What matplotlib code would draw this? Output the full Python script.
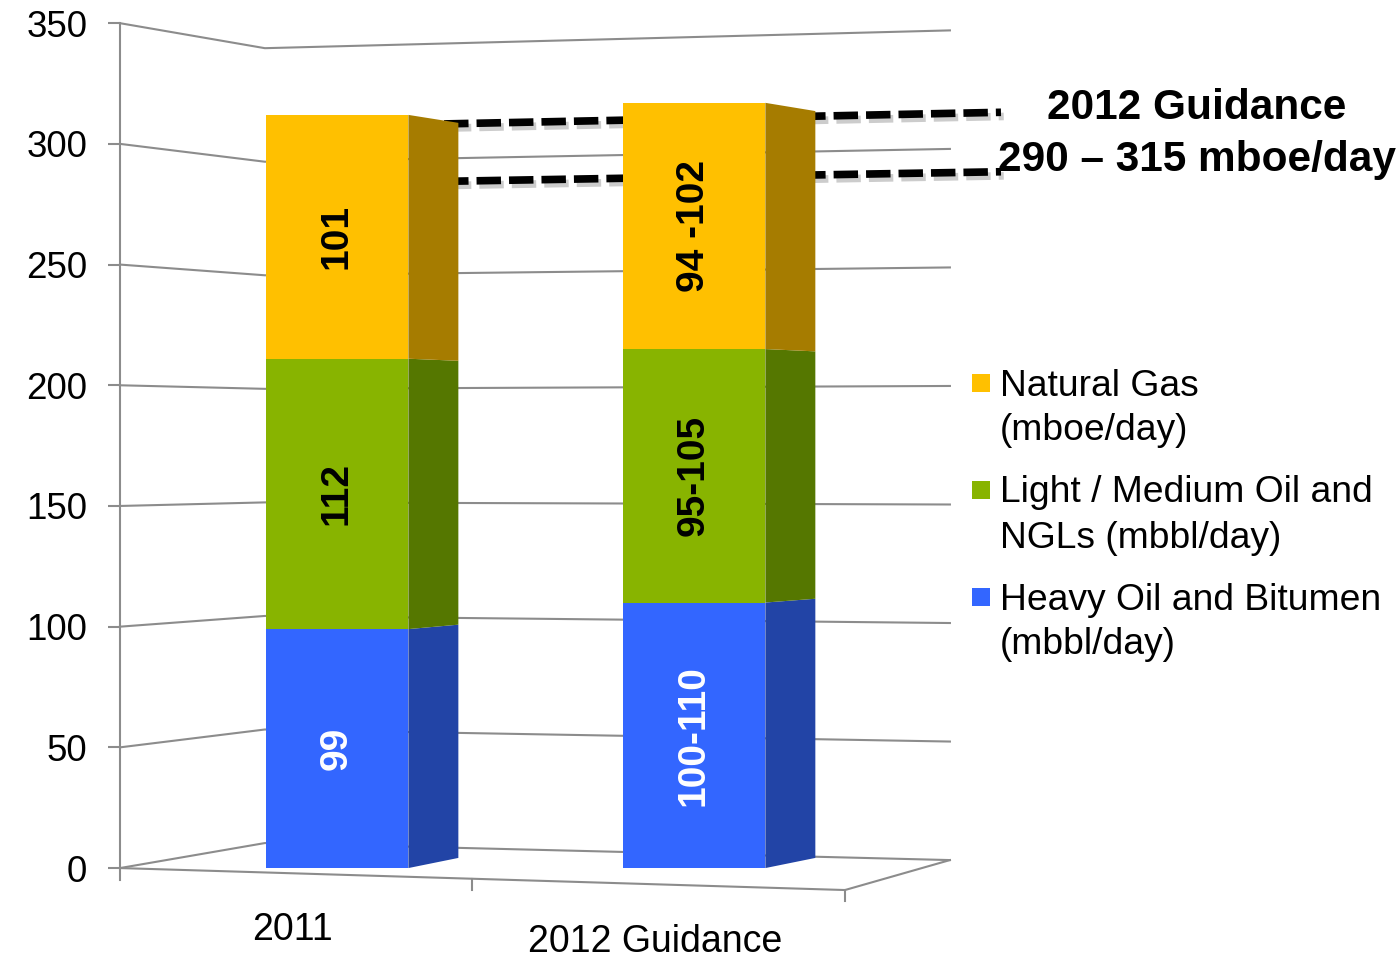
import matplotlib.pyplot as plt
import matplotlib.patheffects as pe
from matplotlib.patches import Polygon, Rectangle

plt.rcParams['font.family'] = ['Liberation Sans', 'DejaVu Sans']

# data
categories = ['2011', '2012 Guidance']
heavy = [99, 110]
light = [112, 105]
gas = [101, 102]
heavy_labels = ['99', '100-110']
light_labels = ['112', '95-105']
gas_labels = ['101', '94 -102']
guidance_low = 290
guidance_high = 315
yticks = [0, 50, 100, 150, 200, 250, 300, 350]
legend_names = ['Natural Gas\n(mboe/day)', 'Light / Medium Oil and\nNGLs (mbbl/day)',
                'Heavy Oil and Bitumen\n(mbbl/day)']

front_col = ['#3366FF', '#88B400', '#FFC000']   # heavy, light, gas
side_col = ['#2244A6', '#557700', '#A67C00']
grid_col = '#8c8c8c'

W, H = 1399, 961
fig = plt.figure(figsize=(W / 100, H / 100), dpi=100)
ax = fig.add_axes([0, 0, 1, 1])
ax.set_xlim(-0.944, 2.975)
ax.set_ylim(-38.5, 359.6)

# fake 3d frame: left wall, back wall, floor
xL, xB, xR = -0.608, -0.202, 1.717
def back(v):
    return 10.36 + 0.9408 * v
def right(v):
    return 3.31 + 0.982 * v
def wall(v, x):
    t = (x - xB) / (xR - xB)
    return back(v) + t * (right(v) - back(v))

for v in yticks:
    ax.plot([xL, xB, xR], [v, back(v), right(v)], color=grid_col, lw=1.5, zorder=1)
xc = 1.423
ax.plot([xL, xc, xR], [0, -9.1, right(0)], color=grid_col, lw=1.5, zorder=1)
for xt in [0.378, xc]:
    yt = (xt - xL) / (xc - xL) * -9.1
    ax.plot([xt, xt], [yt, yt - 4.5], color=grid_col, lw=1.5, zorder=1)

# guidance dashed lines on the back wall
for v in [guidance_low, guidance_high]:
    xs = [0.30, 1.86]
    ax.plot(xs, [wall(v, x) for x in xs], color='black', lw=5.5, dashes=(3.2, 1.05),
            dash_capstyle='butt', zorder=2,
            path_effects=[pe.SimpleLineShadow(offset=(2, -3), alpha=0.2), pe.Normal()])

# stacked bars with side faces
w, d = 0.4, 0.14
def shrink(v):
    return 175 + (v - 175) * 0.976

stacks = [heavy, light, gas]
labels = [heavy_labels, light_labels, gas_labels]
for i in range(len(categories)):
    bottom = 0
    for k in range(3):
        h = stacks[k][i]
        ax.bar(i, h, bottom=bottom, width=w, color=front_col[k], linewidth=0, zorder=3)
        x0 = i + w / 2
        side = Polygon([(x0, bottom), (x0, bottom + h), (x0 + d, shrink(bottom + h)),
                        (x0 + d, shrink(bottom))], closed=True, facecolor=side_col[k],
                       edgecolor='none', zorder=3)
        ax.add_patch(side)
        ax.text(i, bottom + h / 2, labels[k][i], rotation=90, ha='center', va='center',
                fontsize=28, fontweight='bold', color='white' if k == 0 else 'black', zorder=4)
        bottom += h

# category labels
for i, c in enumerate(categories):
    ax.text(i - 0.125 + 0.015 * i, -25.7 - 5 * i, c, ha='center', va='center', fontsize=27)

# y axis
ax.spines['left'].set_position(('data', xL))
ax.spines['left'].set_bounds(-5, 350)
ax.spines['left'].set_color(grid_col)
ax.spines['left'].set_linewidth(1.5)
for s in ['top', 'right', 'bottom']:
    ax.spines[s].set_visible(False)
ax.set_xticks([])
ax.set_yticks(yticks)
ax.tick_params(axis='y', length=8.6, width=1.5, color=grid_col, labelsize=26.5, pad=15)

# guidance annotation
ax.text(2.409, guidance_high, '2012 Guidance', ha='center', va='center',
        fontsize=30.5, fontweight='bold')
ax.text(2.409, guidance_low + 3.5, '290 \u2013 315 mboe/day', ha='center', va='center',
        fontsize=30.5, fontweight='bold')

# legend
legend_cols = [front_col[2], front_col[1], front_col[0]]
for n, (name, col) in enumerate(zip(legend_names, legend_cols)):
    y0 = 384 + 107 * n
    fig.add_artist(Rectangle((972 / W, 1 - (y0 + 8) / H), 18 / W, 18 / H,
                             transform=fig.transFigure, facecolor=col, edgecolor='none'))
    for j, line in enumerate(name.split('\n')):
        fig.text(1000 / W, 1 - (y0 + 2 + 45 * j) / H, line, ha='left', va='center', fontsize=26.8)

plt.savefig('out.png')
